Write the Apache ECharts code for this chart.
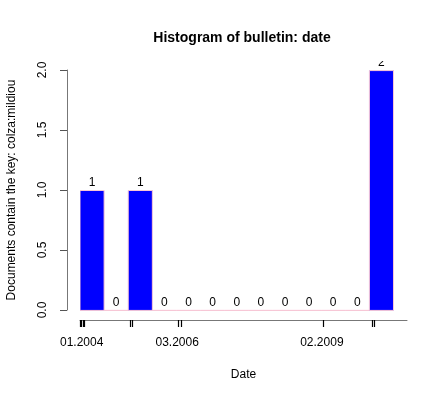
<!DOCTYPE html>
<html>
<head>
<meta charset="utf-8">
<script src="https://cdn.jsdelivr.net/npm/echarts@6/dist/echarts.min.js"></script>
<style>
  html, body { margin: 0; padding: 0; background: #fff; }
  #chart { width: 441px; height: 396px; }
</style>
</head>
<body>
<div id="chart"></div>
<script>
// histogram counts, one per bin (bins are 1 unit wide on the x scale)
const counts = [1, 0, 1, 0, 0, 0, 0, 0, 0, 0, 0, 0, 2];
// rug-like ticks under the axis (in bin units)
const tickPositions = [0.02, 0.07, 0.12, 0.16, 2.07, 2.16, 4.08, 4.18, 10.1, 12.1, 12.19];
// labelled dates and where they sit
const labelPositions = [0.07, 4.03, 10.03];
const tickLabels = ['01.2004', '03.2006', '02.2009'];
const yTicks = [0, 0.5, 1, 1.5, 2];

const font = 'Liberation Sans, Arial, sans-serif';
const chart = echarts.init(document.getElementById('chart'));

chart.setOption({
    animation: false,
    backgroundColor: '#fff',
    title: {
        text: 'Histogram of bulletin: date',
        left: 237,
        top: 26,
        textAlign: 'center',
        textStyle: { fontFamily: font, fontSize: 14, fontWeight: 'bold', color: '#000' }
    },
    grid: [
        // y axis frame (spans the tick range only)
        { left: 67, right: 34, top: 70, bottom: 86, outerBoundsMode: 'none' },
        // plot region: bars, x axis, clipping of labels
        { left: 80, right: 34, top: 61, bottom: 76, outerBoundsMode: 'none' }
    ],
    xAxis: [{
        gridIndex: 0,
        type: 'value',
        show: false,
        min: 0,
        max: 1
    }, {
        gridIndex: 1,
        type: 'value',
        min: 0,
        max: 13.56,
        name: 'Date',
        nameLocation: 'middle',
        nameGap: 49,
        nameTextStyle: { fontFamily: font, fontSize: 12, color: '#000' },
        splitLine: { show: false },
        axisLine: { show: true, onZero: false, lineStyle: { color: '#777', width: 1 } },
        axisTick: {
            show: true,
            length: 7,
            customValues: tickPositions,
            lineStyle: { color: '#000', width: 1.2 }
        },
        axisLabel: {
            customValues: labelPositions,
            margin: 17,
            fontFamily: font,
            fontSize: 12,
            color: '#000',
            formatter: function (v) {
                let best = 0;
                labelPositions.forEach(function (p, i) {
                    if (Math.abs(p - v) < Math.abs(labelPositions[best] - v)) best = i;
                });
                return tickLabels[best];
            }
        }
    }],
    yAxis: [{
        gridIndex: 0,
        type: 'value',
        min: 0,
        max: 2,
        name: 'Documents contain the key: colza:mildiou',
        nameLocation: 'middle',
        nameGap: 49,
        nameTextStyle: { fontFamily: font, fontSize: 12, color: '#000' },
        splitLine: { show: false },
        axisLine: { show: true, onZero: false, lineStyle: { color: '#777', width: 1 } },
        axisTick: {
            show: true,
            length: 7,
            customValues: yTicks,
            lineStyle: { color: '#555' }
        },
        axisLabel: {
            customValues: yTicks,
            rotate: 90,
            margin: 18,
            fontFamily: font,
            fontSize: 12,
            color: '#000',
            formatter: function (v) { return v.toFixed(1); }
        }
    }, {
        gridIndex: 1,
        type: 'value',
        show: false,
        min: -0.08,
        max: 2.08
    }],
    series: [{
        type: 'custom',
        xAxisIndex: 1,
        yAxisIndex: 1,
        clip: true,
        data: counts.map(function (c, i) { return [i, c]; }),
        renderItem: function (params, api) {
            const i = api.value(0);
            const c = api.value(1);
            const p0 = api.coord([i, 0]);
            const p1 = api.coord([i + 1, c]);
            return {
                type: 'group',
                children: [{
                    type: 'rect',
                    shape: { x: p0[0], y: p1[1], width: p1[0] - p0[0], height: p0[1] - p1[1] },
                    style: { fill: '#0000ff', stroke: '#f7c6d6', lineWidth: 1 }
                }, {
                    type: 'text',
                    style: {
                        text: String(c),
                        x: (p0[0] + p1[0]) / 2,
                        y: p1[1] - 2,
                        textAlign: 'center',
                        textVerticalAlign: 'bottom',
                        fontFamily: font,
                        fontSize: 12,
                        fill: '#000'
                    }
                }]
            };
        }
    }]
});
</script>
</body>
</html>
